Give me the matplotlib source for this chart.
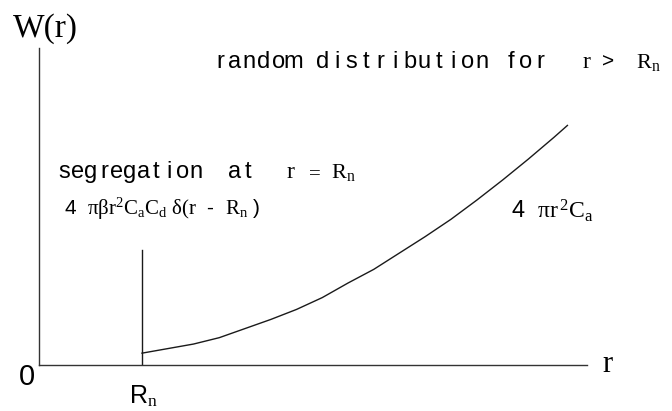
import matplotlib.pyplot as plt
from matplotlib.font_manager import FontProperties
from matplotlib.textpath import TextPath

plt.rcParams["mathtext.fontset"] = "custom"
plt.rcParams["mathtext.rm"] = "Liberation Serif"
plt.rcParams["mathtext.it"] = "Liberation Serif:italic"
plt.rcParams["font.family"] = ["Liberation Sans", "DejaVu Sans"]

# radius in units of R_n, pair density W(r) for the random part
r_random = [1.0, 1.25, 1.5, 1.75, 2.0, 2.25, 2.5, 2.75, 3.0, 3.25,
            3.5, 3.75, 4.0, 4.25, 4.5, 4.75, 5.0, 5.13]
w_random = [1.3, 1.8, 2.3, 3.0, 4.0, 5.0, 6.1, 7.4, 9.0, 10.5,
            12.3, 14.1, 16.0, 18.1, 20.3, 22.6, 25.0, 26.3]

# delta spike at r = R_n
r_spike = 1.0
w_spike = 12.6

r_max = 5.32
w_max = 34.8

W, H = 672, 411
fig = plt.figure(figsize=(W / 100, H / 100), dpi=100)
ax = fig.add_axes([39 / W, 46 / H, 548 / W, 317 / H])
ax.set_xlim(0, r_max)
ax.set_ylim(0, w_max)

line_kw = dict(color="#1a1a1a", lw=1.0)
ax.plot(r_random, w_random, **line_kw)
ax.plot([r_spike, r_spike], [0, w_spike], **line_kw)

for side in ("top", "right"):
    ax.spines[side].set_visible(False)
for side in ("left", "bottom"):
    ax.spines[side].set_color("#333333")
    ax.spines[side].set_linewidth(1.0)
ax.set_xticks([])
ax.set_yticks([])


def ftext(x, y, s, **kw):
    fig.text(x / W, 1 - y / H, s, **kw)


def glyph_width(ch, size):
    if ch == " ":
        return 0.0
    prop = FontProperties(family="Liberation Sans")
    ext = TextPath((0, 0), ch, size=size, prop=prop).get_extents()
    return ext.width * 100 / 72


def spaced(x, y, s, pitch, fontsize):
    # roughly fixed advance per character, glyphs centred in their cells
    widths = [glyph_width(ch, fontsize) for ch in s]
    cx = x + pitch / 2
    for i, ch in enumerate(s):
        if ch != " ":
            ftext(cx, y, ch, ha="center", va="baseline", fontsize=fontsize)
        if i + 1 < len(s):
            cx += max(pitch, (widths[i] + widths[i + 1]) / 2 + 1.5)


ftext(45, 29, "W(r)", family="Liberation Serif", fontsize=24, ha="center", va="center")
ftext(27, 377, "0", fontsize=21, ha="center", va="center")
ftext(608, 364, r"$\mathrm{r}$", fontsize=22, ha="center", va="center")
ftext(143, 403, r"R$_\mathrm{n}$", fontsize=18, ha="center", va="baseline")

spaced(213, 68, "random distribution for", 14.5, 17)
ftext(582, 68, r"$\mathrm{r}$", fontsize=17, va="baseline")
ftext(602, 68, ">", fontsize=15, va="baseline")
ftext(636, 68, r"$\mathrm{R}_\mathrm{n}$", fontsize=16, va="baseline")

spaced(58, 178, "segregation  at", 13.1, 17)
ftext(286, 178, r"$\mathrm{r}$", fontsize=17, va="baseline")
ftext(305, 178, r"$=$", fontsize=15, va="baseline")
ftext(331, 178, r"$\mathrm{R}_\mathrm{n}$", fontsize=16, va="baseline")

ftext(64, 215, r"4  $\mathrm{\pi\beta r^2 C_a C_d\ \delta(r}$  -  $\mathrm{R_n}$ )",
      fontsize=15, ha="left", va="baseline")

ftext(511, 218, r"4  $\mathrm{\pi r^{\,2} C_a}$", fontsize=17, ha="left", va="baseline")

fig.savefig("out.png", dpi=100)
